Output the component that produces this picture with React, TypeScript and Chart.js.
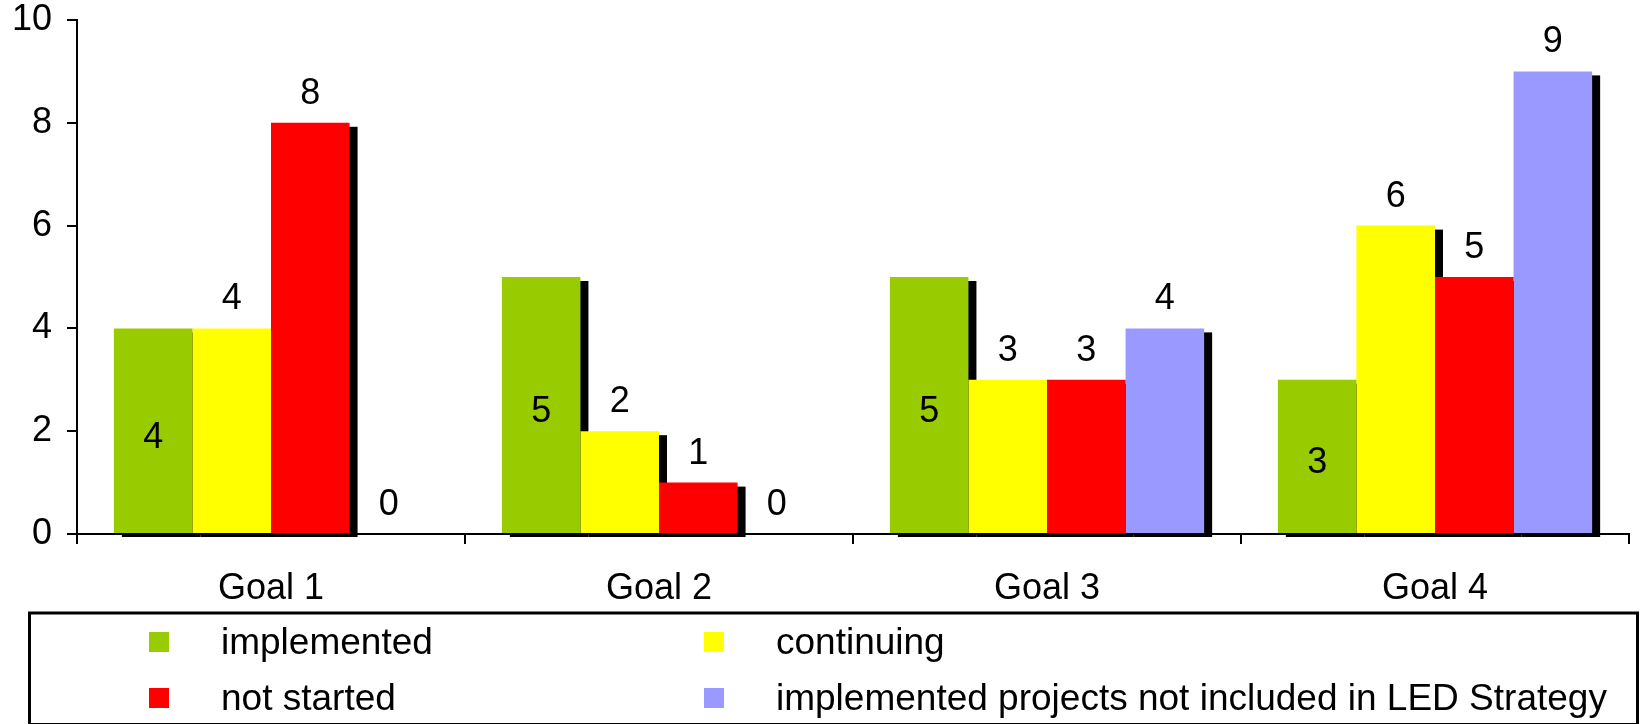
import React, { useEffect, useRef } from "react";
import { Chart, registerables } from "chart.js";

Chart.register(...registerables);

// Goals on the category axis
const categories = ["Goal 1", "Goal 2", "Goal 3", "Goal 4"];

// Project status series
const seriesNames = [
  "implemented",
  "continuing",
  "not started",
  "implemented projects not included in LED Strategy",
];
const implemented = [4, 5, 5, 3];
const continuing = [4, 2, 3, 6];
const notStarted = [8, 1, 3, 5];
const notInStrategy = [0, 0, 4, 9];
const seriesColors = ["#99CC00", "#FFFF00", "#FF0000", "#9999FF"];

// Value axis ticks
const yTicks = [0, 2, 4, 6, 8, 10];

const FONT = "'Liberation Sans', Arial, Helvetica, sans-serif";
const AXIS_FONT_SIZE = 36;
const LABEL_FONT_SIZE = 36;
const LEGEND_FONT_SIZE = 37;

// Solid black drop shadow behind every non-empty bar
const barShadow = {
  id: "barShadow",
  beforeDatasetsDraw(chart: any) {
    const ctx = chart.ctx;
    ctx.save();
    ctx.fillStyle = "#000";
    chart.data.datasets.forEach((_: any, di: number) => {
      const meta = chart.getDatasetMeta(di);
      meta.data.forEach((bar: any) => {
        const { x, y, base, width } = bar.getProps(["x", "y", "base", "width"], true);
        if (Math.abs(base - y) < 0.5) return;
        ctx.fillRect(x - width / 2 + 8, y + 4, width, base - y);
      });
    });
    ctx.restore();
  },
};

// Value labels: first series inside the bar, the others above it
const valueLabels = {
  id: "valueLabels",
  afterDatasetsDraw(chart: any) {
    const ctx = chart.ctx;
    ctx.save();
    ctx.fillStyle = "#000";
    ctx.font = `${LABEL_FONT_SIZE}px ${FONT}`;
    ctx.textAlign = "center";
    ctx.textBaseline = "alphabetic";
    chart.data.datasets.forEach((ds: any, di: number) => {
      const meta = chart.getDatasetMeta(di);
      meta.data.forEach((bar: any, i: number) => {
        const { x, y, base } = bar.getProps(["x", "y", "base"], true);
        const v = ds.data[i];
        const ty = di === 0 ? (y + base) / 2 + 4 + LABEL_FONT_SIZE * 0.358 : y - 19;
        ctx.fillText(String(v), x, ty);
      });
    });
    ctx.restore();
  },
};

// Boxed two-column legend under the axis
const boxedLegend = {
  id: "boxedLegend",
  afterDraw(chart: any) {
    const ctx = chart.ctx;
    ctx.save();
    ctx.strokeStyle = "#000";
    ctx.lineWidth = 3;
    ctx.strokeRect(29.5, 613, 1608, 111.5);
    ctx.font = `${LEGEND_FONT_SIZE}px ${FONT}`;
    ctx.textAlign = "left";
    ctx.textBaseline = "alphabetic";
    const colX = [149, 704];
    const rowY = [642, 698];
    chart.data.datasets.forEach((ds: any, di: number) => {
      const cx = colX[di % 2];
      const cy = rowY[Math.floor(di / 2)];
      ctx.fillStyle = ds.backgroundColor;
      ctx.fillRect(cx, cy - 10, 20, 20);
      ctx.fillStyle = "#000";
      ctx.fillText(ds.label, cx + 72, cy + 12);
    });
    ctx.restore();
  },
};

export default function App() {
  const canvasRef = useRef<HTMLCanvasElement | null>(null);

  useEffect(() => {
    if (!canvasRef.current) return;
    const seriesValues = [implemented, continuing, notStarted, notInStrategy];
    const axisGrid = {
      display: true,
      drawOnChartArea: false,
      drawTicks: true,
      tickLength: 10,
      color: "#000",
      lineWidth: 2,
    };
    const chart = new Chart(canvasRef.current, {
      type: "bar",
      data: {
        labels: categories,
        datasets: seriesValues.map((values, i) => ({
          label: seriesNames[i],
          data: values,
          backgroundColor: seriesColors[i],
          borderWidth: 0,
          categoryPercentage: 0.81,
          barPercentage: 1,
        })),
      },
      options: {
        animation: false,
        responsive: true,
        maintainAspectRatio: false,
        layout: { padding: { left: 0, right: 12, top: 20, bottom: 110 } },
        plugins: {
          legend: { display: false },
          tooltip: { enabled: false },
        },
        scales: {
          x: {
            grid: { ...axisGrid, offset: true },
            border: { display: true, color: "#000", width: 2 },
            ticks: {
              color: "#000",
              font: { family: FONT, size: AXIS_FONT_SIZE },
              padding: 23,
            },
            afterFit: (scale: any) => {
              scale.height = 80;
              scale.paddingLeft = 0;
              scale.paddingRight = 0;
            },
          },
          y: {
            min: 0,
            max: 10,
            grid: axisGrid,
            border: { display: true, color: "#000", width: 2 },
            ticks: {
              color: "#000",
              font: { family: FONT, size: AXIS_FONT_SIZE },
              padding: 15,
            },
            afterBuildTicks: (scale: any) => {
              scale.ticks = yTicks.map((v) => ({ value: v }));
            },
            afterFit: (scale: any) => {
              scale.width = 77;
              scale.paddingTop = 0;
              scale.paddingBottom = 0;
            },
          },
        },
      },
      plugins: [barShadow, valueLabels, boxedLegend],
    });
    return () => chart.destroy();
  }, []);

  return (
    <div
      style={{
        position: "fixed",
        left: 0,
        top: 0,
        width: 1641,
        height: 724,
        background: "#fff",
      }}
    >
      <canvas ref={canvasRef} style={{ display: "block" }} />
    </div>
  );
}
